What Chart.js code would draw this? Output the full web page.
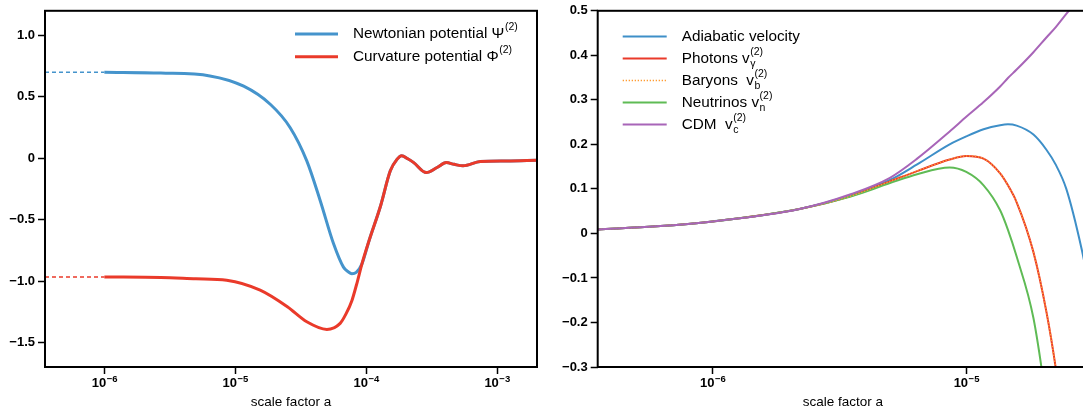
<!DOCTYPE html>
<html>
<head>
<meta charset="utf-8">
<script src="https://cdn.jsdelivr.net/npm/chart.js@4"></script>
<style>
  html, body { margin: 0; padding: 0; background: #fff; overflow: hidden; }
  body { width: 1083px; height: 410px; position: relative; }
  canvas { position: absolute; top: 0; }
  #potChart { left: 0; }
  #velChart { left: 545px; }
</style>
</head>
<body>
<canvas id="potChart" width="545" height="410"></canvas>
<canvas id="velChart" width="550" height="410"></canvas>
<script>
// ---- left panel: second order potentials ----
const potLabels = ['Newtonian potential Ψ', 'Curvature potential Φ'];
const potTicksY = [-1.5, -1.0, -0.5, 0, 0.5, 1.0];
const leadA = [3.52e-7, 1e-6];   // dashed initial-value stub

const psiA = [1e-6, 2.7e-6, 6.4e-6, 1.16e-5, 1.86e-5, 2.63e-5, 3.52e-5, 4.46e-5, 5.64e-5, 6.71e-5,
              7.3e-5, 7.78e-5, 8.4e-5, 9.29e-5, 1.054e-4, 1.29e-4, 1.53e-4, 1.72e-4, 1.87e-4, 2.08e-4, 2.31e-4,
              2.88e-4, 3.48e-4, 4.09e-4, 4.7e-4, 5.5e-4, 7.45e-4, 1.19e-3, 2.02e-3];
const psiVal = [0.700, 0.693, 0.670, 0.586, 0.437, 0.248, -0.022, -0.346, -0.697, -0.887,
                -0.925, -0.940, -0.930, -0.860, -0.670, -0.387, -0.103, -0.010, 0.020, -0.005, -0.036,
                -0.117, -0.076, -0.036, -0.050, -0.062, -0.027, -0.022, -0.016];

const phiA = [1e-6, 2.7e-6, 5e-6, 8.6e-6, 1.55e-5, 2.5e-5, 3.52e-5, 5.01e-5, 6.33e-5, 7.0e-5,
              7.78e-5, 8.59e-5, 9.29e-5, 1.054e-4, 1.29e-4, 1.53e-4, 1.72e-4, 1.87e-4, 2.08e-4, 2.31e-4,
              2.88e-4, 3.48e-4, 4.09e-4, 4.7e-4, 5.5e-4, 7.45e-4, 1.19e-3, 2.02e-3];
const phiVal = [-0.967, -0.972, -0.982, -0.994, -1.075, -1.210, -1.332, -1.394, -1.345, -1.270,
                -1.160, -1.000, -0.860, -0.670, -0.387, -0.103, -0.010, 0.020, -0.005, -0.036,
                -0.117, -0.076, -0.036, -0.050, -0.062, -0.027, -0.022, -0.016];

// ---- right panel: second order velocities ----
const velLabels = ['Adiabatic velocity', 'Photons v', 'Baryons  v', 'Neutrinos v', 'CDM  v'];
const velSubs = ['', 'γ', 'b', 'n', 'c'];
const velTicksY = [-0.3, -0.2, -0.1, 0, 0.1, 0.2, 0.3, 0.4, 0.5];
const velA = [3.52e-7, 6e-7, 1e-6, 2.2e-6, 3.5e-6, 5e-6, 6.4e-6, 8.6e-6, 1e-5, 1.17e-5,
              1.36e-5, 1.46e-5, 1.58e-5, 1.84e-5, 2.07e-5, 2.25e-5, 2.48e-5, 2.85e-5, 3.1e-5];
const adiabatic = [0.009, 0.016, 0.027, 0.055, 0.086, 0.120, 0.155, 0.200, 0.218, 0.234,
                   0.243, 0.245, 0.242, 0.222, 0.188, 0.155, 0.100, -0.035, -0.140];
const photons   = [0.009, 0.016, 0.027, 0.055, 0.084, 0.117, 0.140, 0.166, 0.174, 0.168,
                   0.135, 0.108, 0.070, -0.042, -0.176, -0.300, -0.480, -0.800, -1.000];
const baryons   = [0.009, 0.016, 0.027, 0.055, 0.084, 0.117, 0.140, 0.166, 0.174, 0.168,
                   0.135, 0.108, 0.070, -0.042, -0.176, -0.300, -0.480, -0.800, -1.000];
const neutrinos = [0.009, 0.016, 0.027, 0.055, 0.083, 0.113, 0.133, 0.148, 0.138, 0.108,
                   0.052, 0.008, -0.052, -0.190, -0.380, -0.550, -0.800, -1.200, -1.500];
const cdm       = [0.009, 0.016, 0.027, 0.055, 0.088, 0.125, 0.168, 0.229, 0.262, 0.295,
                   0.330, 0.349, 0.368, 0.407, 0.440, 0.463, 0.493, 0.535, 0.560];

const FONT = '"Liberation Sans", Arial, Helvetica, sans-serif';

function xy(xs, ys) {
    return xs.map((x, i) => ({ x: x, y: ys[i] }));
}

function expText(v) {
    const e = Math.round(Math.log10(v));
    return (e < 0 ? '\u2212' : '') + Math.abs(e);
}

function numLabel(v) {
    if (Math.abs(v) < 1e-9) return '0';
    return (v < 0 ? '\u2212' : '') + Math.abs(v).toFixed(1);
}

const framePlugin = {
    id: 'frame',
    afterDraw(chart) {
        const a = chart.chartArea, ctx = chart.ctx;
        ctx.save();
        ctx.strokeStyle = '#000';
        ctx.lineWidth = 2;
        ctx.strokeRect(a.left, a.top, a.right - a.left, a.bottom - a.top);
        ctx.restore();
    }
};

// 10^n labels with a raised exponent
const powTicks = {
    id: 'powTicks',
    afterDraw(chart) {
        const s = chart.scales.x, ctx = chart.ctx;
        ctx.save();
        ctx.fillStyle = '#000';
        ctx.textBaseline = 'alphabetic';
        s.ticks.forEach(t => {
            const px = s.getPixelForValue(t.value);
            const e = expText(t.value);
            ctx.font = 'bold 13px ' + FONT;
            const wb = ctx.measureText('10').width;
            ctx.font = 'bold 9.5px ' + FONT;
            const we = ctx.measureText(e).width;
            const x0 = px - (wb + we) / 2;
            ctx.font = 'bold 13px ' + FONT;
            ctx.fillText('10', x0, s.top + 20);
            ctx.font = 'bold 9.5px ' + FONT;
            ctx.fillText(e, x0 + wb + 0.5, s.top + 14.5);
        });
        ctx.restore();
    }
};

// legend with sub/superscripts, drawn in dataset order
const mathLegend = {
    id: 'mathLegend',
    afterDraw(chart, args, opts) {
        const ctx = chart.ctx;
        let y = opts.y;
        chart.data.datasets.forEach(ds => {
            if (!ds.label) return;
            ctx.save();
            ctx.strokeStyle = ds.borderColor;
            ctx.lineWidth = ds.borderWidth;
            ctx.setLineDash(ds.borderDash || []);
            ctx.beginPath();
            ctx.moveTo(opts.x, y);
            ctx.lineTo(opts.x + opts.sample, y);
            ctx.stroke();
            ctx.setLineDash([]);
            ctx.fillStyle = '#000';
            ctx.textBaseline = 'middle';
            ctx.font = '15.3px ' + FONT;
            const tx = opts.x + opts.sample + opts.gap;
            ctx.fillText(ds.label, tx, y);
            const w = ctx.measureText(ds.label).width;
            ctx.font = '10.5px ' + FONT;
            if (ds.sup) ctx.fillText(ds.sup, tx + w + 0.5, y - 6.5);
            if (ds.sub) ctx.fillText(ds.sub, tx + w + 0.5, y + 5.5);
            ctx.restore();
            y += opts.step;
        });
    }
};

function xAxis(min, max, decades) {
    return {
        type: 'logarithmic',
        min: min,
        max: max,
        afterBuildTicks: s => { s.ticks = decades.map(v => ({ value: v, major: true })); },
        afterFit: s => { s.height = 43; },
        grid: { drawOnChartArea: false, drawTicks: true, tickLength: 7, tickWidth: 1.5, tickColor: '#000', color: '#000' },
        border: { display: false },
        ticks: { display: false },
        title: {
            display: true,
            text: 'scale factor a',
            color: '#000',
            font: { family: FONT, size: 13.5, lineHeight: 1.1 },
            padding: { top: 0, bottom: 0 }
        }
    };
}

function yAxis(min, max, ticks, width) {
    return {
        type: 'linear',
        min: min,
        max: max,
        afterBuildTicks: s => { s.ticks = ticks.map(v => ({ value: v })); },
        afterFit: s => { s.width = width; },
        grid: { drawOnChartArea: false, drawTicks: true, tickLength: 7, tickWidth: 1.5, tickColor: '#000', color: '#000' },
        border: { display: false },
        ticks: {
            callback: v => numLabel(v),
            color: '#000',
            font: { family: FONT, size: 13, weight: 'bold' },
            padding: 3
        }
    };
}

const common = {
    responsive: false,
    animation: false,
    events: [],
    elements: { point: { radius: 0 }, line: { cubicInterpolationMode: 'monotone', fill: false } }
};

const blueL = '#4594cc';
const redL = '#ea3a2a';

new Chart(document.getElementById('potChart'), {
    type: 'line',
    data: {
        datasets: [
            { label: potLabels[0], sup: '(2)', data: xy(psiA, psiVal), borderColor: blueL, borderWidth: 3, order: 1 },
            { label: potLabels[1], sup: '(2)', data: xy(phiA, phiVal), borderColor: redL, borderWidth: 3, order: 0 },
            { data: xy(leadA, [psiVal[0], psiVal[0]]), borderColor: blueL, borderWidth: 1.5, borderDash: [4, 3], order: 2 },
            { data: xy(leadA, [phiVal[0], phiVal[0]]), borderColor: redL, borderWidth: 1.5, borderDash: [4, 3], order: 2 }
        ]
    },
    options: Object.assign({}, common, {
        layout: { padding: { top: 9.5, right: 8, left: 0, bottom: 0 } },
        scales: {
            x: xAxis(3.52e-7, 2.02e-3, [1e-6, 1e-5, 1e-4, 1e-3]),
            y: yAxis(-1.7, 1.2, potTicksY, 45)
        },
        plugins: {
            legend: { display: false },
            tooltip: { enabled: false },
            mathLegend: { x: 295, y: 34, step: 22.7, sample: 43, gap: 15 }
        }
    }),
    plugins: [framePlugin, powTicks, mathLegend]
});

new Chart(document.getElementById('velChart'), {
    type: 'line',
    data: {
        datasets: [
            { label: velLabels[0], data: xy(velA, adiabatic), borderColor: '#3e8fc8', borderWidth: 2, order: 4 },
            { label: velLabels[1], sub: velSubs[1], sup: '(2)', data: xy(velA, photons), borderColor: '#ea3a2a', borderWidth: 2, order: 3 },
            { label: velLabels[2], sub: velSubs[2], sup: '(2)', data: xy(velA, baryons), borderColor: '#ff9c33', borderWidth: 1.5, borderDash: [1.3, 1.7], order: 1 },
            { label: velLabels[3], sub: velSubs[3], sup: '(2)', data: xy(velA, neutrinos), borderColor: '#5fbb55', borderWidth: 2, order: 2 },
            { label: velLabels[4], sub: velSubs[4], sup: '(2)', data: xy(velA, cdm), borderColor: '#a865b8', borderWidth: 2, order: 0 }
        ]
    },
    options: Object.assign({}, common, {
        layout: { padding: { top: 9.5, right: 7, left: 0, bottom: 0 } },
        scales: {
            x: xAxis(3.52e-7, 3.02e-5, [1e-6, 1e-5]),
            y: yAxis(-0.3, 0.5, velTicksY, 52.7)
        },
        plugins: {
            legend: { display: false },
            tooltip: { enabled: false },
            mathLegend: { x: 77.7, y: 36.5, step: 22, sample: 44, gap: 15 }
        }
    }),
    plugins: [framePlugin, powTicks, mathLegend]
});
</script>
</body>
</html>
